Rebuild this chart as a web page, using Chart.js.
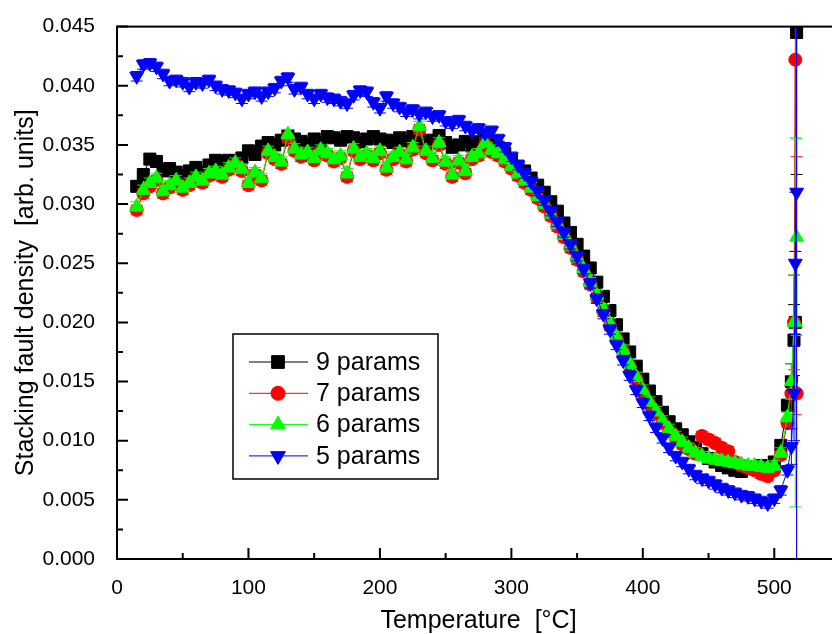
<!DOCTYPE html>
<html>
<head>
<meta charset="utf-8">
<title>Stacking fault density</title>
<script src="https://cdn.jsdelivr.net/npm/chart.js@4.4.0/dist/chart.umd.min.js"></script>
<style>
html, body { margin: 0; padding: 0; background: #fff; overflow: hidden; }
canvas { display: block; }
</style>
</head>
<body>
<canvas id="sfdChart" width="850" height="634"></canvas>
<script>
// measurement temperatures [°C], shared by all fits
const temperatures = [
    15, 20, 25, 30, 35, 40, 45, 50, 55, 60,
    65, 70, 75, 80, 85, 90, 95, 100, 105, 110,
    115, 120, 125, 130, 135, 140, 145, 150, 155, 160,
    165, 170, 175, 180, 185, 190, 195, 200, 205, 210,
    215, 220, 225, 230, 235, 240, 245, 250, 255, 260,
    265, 270, 275, 280, 285, 290, 295, 300, 305, 310,
    315, 320, 325, 330, 335, 340, 345, 350, 355, 360,
    365, 370, 375, 380, 385, 390, 395, 400, 405, 410,
    415, 420, 425, 430, 435, 440, 445, 450, 455, 460,
    465, 470, 475, 480, 485, 490, 495, 500, 505, 510,
    513, 515, 516, 517
];

// stacking fault density from the fit with 9 parameters
const params9 = [
    0.0315, 0.0325, 0.0338, 0.0336, 0.0328, 0.0330, 0.0327, 0.0324, 0.0328, 0.0331,
    0.0327, 0.0333, 0.0337, 0.0336, 0.0337, 0.0336, 0.0339, 0.0345, 0.0342, 0.0349,
    0.0352, 0.0350, 0.0354, 0.0358, 0.0355, 0.0353, 0.0351, 0.0355, 0.0352, 0.0357,
    0.0356, 0.0354, 0.0357, 0.0356, 0.0352, 0.0355, 0.0357, 0.0355, 0.0354, 0.0352,
    0.0356, 0.0353, 0.0357, 0.0355, 0.0351, 0.0354, 0.0358, 0.0352, 0.0348, 0.0350,
    0.0353, 0.0349, 0.0352, 0.0355, 0.0351, 0.0348, 0.0343, 0.0337, 0.0332, 0.0328,
    0.0322, 0.0316, 0.0310, 0.0302, 0.0294, 0.0284, 0.0276, 0.0266, 0.0256, 0.0246,
    0.0234, 0.0222, 0.0210, 0.0198, 0.0186, 0.0175, 0.0163, 0.0152, 0.0142, 0.0133,
    0.0124, 0.0116, 0.0110, 0.0105, 0.0099, 0.0094, 0.0089, 0.0085, 0.0082, 0.0079,
    0.0077, 0.0075, 0.0074, 0.0077, 0.0078, 0.0079, 0.0078, 0.0082, 0.0096, 0.0130,
    0.0150, 0.0185, 0.0200, 0.0445
];

// 7 parameters
const params7 = [
    0.0295, 0.0309, 0.0315, 0.0320, 0.0309, 0.0314, 0.0318, 0.0312, 0.0316, 0.0321,
    0.0318, 0.0324, 0.0326, 0.0323, 0.0329, 0.0333, 0.0328, 0.0316, 0.0325, 0.0320,
    0.0343, 0.0338, 0.0334, 0.0356, 0.0345, 0.0340, 0.0342, 0.0337, 0.0344, 0.0341,
    0.0336, 0.0339, 0.0323, 0.0345, 0.0338, 0.0341, 0.0337, 0.0343, 0.0329, 0.0338,
    0.0342, 0.0336, 0.0346, 0.0363, 0.0343, 0.0337, 0.0350, 0.0334, 0.0323, 0.0335,
    0.0326, 0.0338, 0.0341, 0.0350, 0.0344, 0.0341, 0.0336, 0.0330, 0.0324, 0.0318,
    0.0312, 0.0305, 0.0298, 0.0290, 0.0281, 0.0272, 0.0263, 0.0253, 0.0243, 0.0232,
    0.0221, 0.0209, 0.0197, 0.0186, 0.0175, 0.0163, 0.0152, 0.0141, 0.0131, 0.0123,
    0.0115, 0.0108, 0.0102, 0.0097, 0.0093, 0.0089, 0.0104, 0.0101, 0.0098, 0.0094,
    0.0091, 0.0082, 0.0079, 0.0077, 0.0075, 0.0072, 0.0070, 0.0075, 0.0088, 0.0115,
    0.0140, 0.0200, 0.0422, 0.0140
];

// 6 parameters
const params6 = [
    0.0298, 0.0312, 0.0318, 0.0322, 0.0311, 0.0316, 0.0320, 0.0314, 0.0318, 0.0323,
    0.0320, 0.0326, 0.0328, 0.0325, 0.0331, 0.0335, 0.0330, 0.0318, 0.0327, 0.0322,
    0.0345, 0.0340, 0.0336, 0.0359, 0.0347, 0.0342, 0.0344, 0.0339, 0.0346, 0.0343,
    0.0338, 0.0341, 0.0326, 0.0347, 0.0340, 0.0343, 0.0339, 0.0345, 0.0331, 0.0340,
    0.0344, 0.0338, 0.0348, 0.0366, 0.0345, 0.0339, 0.0352, 0.0336, 0.0325, 0.0337,
    0.0328, 0.0340, 0.0343, 0.0352, 0.0346, 0.0343, 0.0338, 0.0332, 0.0326, 0.0320,
    0.0314, 0.0307, 0.0300, 0.0292, 0.0283, 0.0274, 0.0265, 0.0255, 0.0245, 0.0234,
    0.0223, 0.0211, 0.0199, 0.0188, 0.0177, 0.0165, 0.0154, 0.0143, 0.0133, 0.0125,
    0.0117, 0.0110, 0.0104, 0.0099, 0.0094, 0.0090, 0.0087, 0.0085, 0.0084, 0.0083,
    0.0082, 0.0081, 0.0080, 0.0079, 0.0079, 0.0078, 0.0077, 0.0079, 0.0090, 0.0120,
    0.0150, 0.0200, 0.0200, 0.0272
];

// 5 parameters
const params5 = [
    0.0408, 0.0418, 0.0419, 0.0416, 0.0410, 0.0404, 0.0405, 0.0403, 0.0399, 0.0403,
    0.0402, 0.0405, 0.0400, 0.0397, 0.0396, 0.0394, 0.0389, 0.0393, 0.0395, 0.0391,
    0.0395, 0.0398, 0.0404, 0.0407, 0.0397, 0.0399, 0.0393, 0.0389, 0.0393, 0.0390,
    0.0389, 0.0387, 0.0385, 0.0392, 0.0396, 0.0395, 0.0386, 0.0381, 0.0391, 0.0385,
    0.0382, 0.0378, 0.0380, 0.0376, 0.0378, 0.0374, 0.0375, 0.0370, 0.0368, 0.0371,
    0.0366, 0.0362, 0.0364, 0.0360, 0.0362, 0.0355, 0.0348, 0.0340, 0.0333, 0.0326,
    0.0319, 0.0311, 0.0303, 0.0294, 0.0285, 0.0276, 0.0266, 0.0256, 0.0245, 0.0233,
    0.0220, 0.0207, 0.0194, 0.0181, 0.0168, 0.0155, 0.0143, 0.0132, 0.0121, 0.0111,
    0.0102, 0.0094, 0.0087, 0.0082, 0.0076, 0.0071, 0.0068, 0.0066, 0.0063, 0.0060,
    0.0058, 0.0056, 0.0054, 0.0053, 0.0051, 0.0049, 0.0047, 0.0051, 0.0058, 0.0075,
    0.0095, 0.0140, 0.0250, 0.0310
];

// error bar half-widths: typical value, then the last four temperatures
const err9 = 0.0004, tailErr9 = [0.0015, 0.0030, 0.0060, 0.0120];
const err7 = 0.0004, tailErr7 = [0.0015, 0.0040, 0.0300, 0.0200];
const err6 = 0.0004, tailErr6 = [0.0015, 0.0040, 0.0156, 0.0083];
const err5 = 0.0004, tailErr5 = [0.0015, 0.0040, 0.0060, 0.0400];

const seriesNames = ['9 params', '7 params', '6 params', '5 params'];
const yTickStep = 0.005;
const xTickStep = 100;

const FONT = '"Liberation Sans", Arial, Helvetica, sans-serif';
Chart.defaults.font.family = FONT;
Chart.defaults.color = '#000';

function toPoints(values) {
    return temperatures.map((t, i) => ({ x: t, y: values[i] }));
}

function makeSet(name, values, color, style, radius, rotation, order, err, tailErr) {
    return {
        label: name,
        data: toPoints(values),
        borderColor: color,
        backgroundColor: color,
        borderWidth: 1,
        showLine: true,
        pointStyle: style,
        pointRadius: radius,
        pointRotation: rotation,
        pointBorderWidth: 1,
        pointBackgroundColor: color,
        pointBorderColor: color,
        order: order,
        errTypical: err,
        errTail: tailErr
    };
}

// vertical error bars with caps, drawn under each series' markers
const errorBars = {
    id: 'errorBars',
    beforeDatasetDraw(chart, args) {
        const ds = chart.data.datasets[args.index];
        const yScale = chart.scales.y;
        const a = chart.chartArea;
        const ctx = chart.ctx;
        const n = ds.data.length;
        const tailStart = n - ds.errTail.length;
        ctx.save();
        ctx.beginPath();
        ctx.rect(a.left, a.top, a.right - a.left, a.bottom - a.top);
        ctx.clip();
        ctx.strokeStyle = ds.borderColor;
        ctx.lineWidth = 1;
        args.meta.data.forEach((pt, i) => {
            const e = i >= tailStart ? ds.errTail[i - tailStart] : ds.errTypical;
            const v = ds.data[i].y;
            const yHi = yScale.getPixelForValue(v + e);
            const yLo = yScale.getPixelForValue(v - e);
            ctx.beginPath();
            ctx.moveTo(pt.x, yHi);
            ctx.lineTo(pt.x, yLo);
            ctx.moveTo(pt.x - 6, yHi);
            ctx.lineTo(pt.x + 6, yHi);
            ctx.moveTo(pt.x - 6, yLo);
            ctx.lineTo(pt.x + 6, yLo);
            ctx.stroke();
        });
        ctx.restore();
    }
};

// box frame, inward ticks, axis titles and the legend
const frameAndLegend = {
    id: 'frameAndLegend',
    afterDraw(chart) {
        const ctx = chart.ctx;
        const a = chart.chartArea;
        const x = chart.scales.x;
        const y = chart.scales.y;
        ctx.save();

        ctx.strokeStyle = '#000';
        ctx.lineWidth = 2;
        ctx.strokeRect(a.left, a.top, a.right - a.left, a.bottom - a.top);

        ctx.lineWidth = 2;
        ctx.beginPath();
        x.ticks.forEach(t => {
            const px = x.getPixelForValue(t.value);
            ctx.moveTo(px, a.bottom);
            ctx.lineTo(px, a.bottom - 11);
            const m = t.value + xTickStep / 2;
            if (m < x.max) {
                const pm = x.getPixelForValue(m);
                ctx.moveTo(pm, a.bottom);
                ctx.lineTo(pm, a.bottom - 6);
            }
        });
        y.ticks.forEach(t => {
            const py = y.getPixelForValue(t.value);
            ctx.moveTo(a.left, py);
            ctx.lineTo(a.left + 11, py);
            const m = t.value + yTickStep / 2;
            if (m < y.max) {
                const pm = y.getPixelForValue(m);
                ctx.moveTo(a.left, pm);
                ctx.lineTo(a.left + 6, pm);
            }
        });
        ctx.stroke();

        // axis titles
        ctx.fillStyle = '#000';
        ctx.font = '25px ' + FONT;
        ctx.textAlign = 'center';
        ctx.textBaseline = 'alphabetic';
        ctx.fillText('Temperature  [°C]', (a.left + a.right) / 2, 628);
        ctx.save();
        ctx.translate(33, (a.top + a.bottom) / 2);
        ctx.rotate(-Math.PI / 2);
        ctx.fillText('Stacking fault density  [arb. units]', 0, 0);
        ctx.restore();

        // legend
        const box = { left: 233, top: 334, width: 205, height: 145 };
        ctx.fillStyle = '#fff';
        ctx.fillRect(box.left, box.top, box.width, box.height);
        ctx.lineWidth = 1.5;
        ctx.strokeStyle = '#000';
        ctx.strokeRect(box.left, box.top, box.width, box.height);
        ctx.font = '25px ' + FONT;
        ctx.textAlign = 'left';
        ctx.textBaseline = 'middle';
        seriesNames.forEach((name, i) => {
            const ds = chart.data.datasets.find(d => d.label === name);
            const ry = 362 + i * 31.3;
            ctx.strokeStyle = ds.borderColor;
            ctx.lineWidth = 1;
            ctx.beginPath();
            ctx.moveTo(249, ry);
            ctx.lineTo(308, ry);
            ctx.stroke();
            ctx.fillStyle = ds.pointBackgroundColor;
            Chart.helpers.drawPoint(ctx, {
                pointStyle: ds.pointStyle,
                rotation: ds.pointRotation,
                radius: ds.pointRadius + 0.5,
                borderWidth: 1
            }, 278, ry);
            ctx.fillStyle = '#000';
            ctx.fillText(name, 316, ry + 1);
        });

        ctx.restore();
    }
};

new Chart(document.getElementById('sfdChart'), {
    type: 'scatter',
    data: {
        datasets: [
            makeSet('9 params', params9, '#000000', 'rect', 8.5, 0, 4, err9, tailErr9),
            makeSet('7 params', params7, '#ff0000', 'circle', 6.5, 0, 3, err7, tailErr7),
            makeSet('6 params', params6, '#00ff00', 'triangle', 8, 0, 2, err6, tailErr6),
            makeSet('5 params', params5, '#0000ff', 'triangle', 8, 180, 1, err5, tailErr5)
        ]
    },
    options: {
        responsive: false,
        animation: false,
        events: [],
        layout: { padding: { top: 25, right: 10, left: 0, bottom: 0 } },
        plugins: {
            legend: { display: false },
            tooltip: { enabled: false }
        },
        scales: {
            x: {
                type: 'linear',
                min: 0,
                max: 550,
                grid: { display: false },
                border: { display: false },
                ticks: {
                    stepSize: xTickStep,
                    includeBounds: false,
                    maxRotation: 0,
                    padding: 9,
                    font: { size: 21 },
                    color: '#000'
                },
                afterFit(scale) { scale.height = 75; }
            },
            y: {
                type: 'linear',
                min: 0,
                max: 0.045,
                grid: { display: false },
                border: { display: false },
                ticks: {
                    stepSize: yTickStep,
                    padding: 14,
                    font: { size: 21 },
                    color: '#000',
                    callback: v => v.toFixed(3)
                },
                afterFit(scale) { scale.width = 117; }
            }
        }
    },
    plugins: [errorBars, frameAndLegend]
});
</script>
</body>
</html>
